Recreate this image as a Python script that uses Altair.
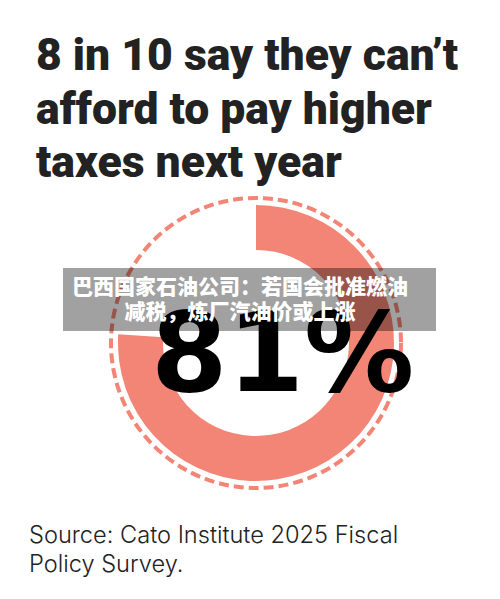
import altair as alt
import pandas as pd

# ---- data ----
title_lines = ["8 in 10 say they can’t", "afford to pay higher", "taxes next year"]
share_labels = ["Can't afford", "Other"]
share_values = [76, 24]          # arc as drawn in the picture
headline_value = "81%"
source_lines = ["Source: Cato Institute 2025 Fiscal", "Policy Survey."]
banner_lines = ["巴西国家石油公司：若国会批准燃油", "减税，炼厂汽油价或上涨"]

SALMON = "#F28575"
W, H = 484, 583
CX, CY = 248, 335

share_df = pd.DataFrame({"label": share_labels, "value": share_values, "order": [0, 1]})

title = alt.Chart(pd.DataFrame({"t": ["\n".join(title_lines)]})).mark_text(
    align="left", baseline="alphabetic", font="Roboto", fontWeight=900,
    fontSize=44.5, lineHeight=53.5, color="#222222", lineBreak="\n"
).encode(x=alt.value(28), y=alt.value(62), text="t:N")

ring = alt.Chart(pd.DataFrame({"r": [1]})).mark_point(
    shape="circle", size=290 * 290, filled=False, stroke=SALMON, strokeWidth=4,
    strokeDash=[10, 5], opacity=1
).encode(x=alt.value(CX), y=alt.value(CY))

donut = alt.Chart(share_df).mark_arc(innerRadius=93, outerRadius=138).encode(
    theta=alt.Theta("value:Q", stack=True),
    color=alt.Color("label:N", scale=alt.Scale(domain=share_labels, range=[SALMON, "rgba(0,0,0,0)"]), legend=None),
    order=alt.Order("order:Q"),
    x=alt.value(CX), y=alt.value(CY),
)

big = alt.Chart(pd.DataFrame({"t": [headline_value]})).mark_text(
    align="left", baseline="alphabetic", font="DejaVu Sans",
    fontWeight="bold", fontSize=110, color="#000000"
).encode(x=alt.value(143), y=alt.value(383), text="t:N")

banner = alt.Chart(pd.DataFrame({"b": [1]})).mark_rect(color="#000000", opacity=0.37).encode(
    x=alt.value(55), x2=alt.value(428), y=alt.value(260), y2=alt.value(323)
)

banner_text = alt.Chart(pd.DataFrame({"t": ["\n".join(banner_lines)]})).mark_text(
    align="center", baseline="alphabetic", font="Noto Sans CJK SC", fontWeight=900,
    fontSize=21, lineHeight=25, color="#ffffff", lineBreak="\n"
).encode(x=alt.value(232), y=alt.value(286), text="t:N")

source = alt.Chart(pd.DataFrame({"t": ["\n".join(source_lines)]})).mark_text(
    align="left", baseline="alphabetic", font="Inter", fontWeight=300,
    fontSize=23.6, lineHeight=29, color="#222222", lineBreak="\n"
).encode(x=alt.value(21), y=alt.value(535), text="t:N")

chart = alt.layer(title, ring, donut, big, banner, banner_text, source).properties(
    width=W, height=H, padding=0, autosize="none", background="white"
).configure_view(stroke=None)

chart.save("out.html", embed_options={"renderer": "svg", "actions": False})
